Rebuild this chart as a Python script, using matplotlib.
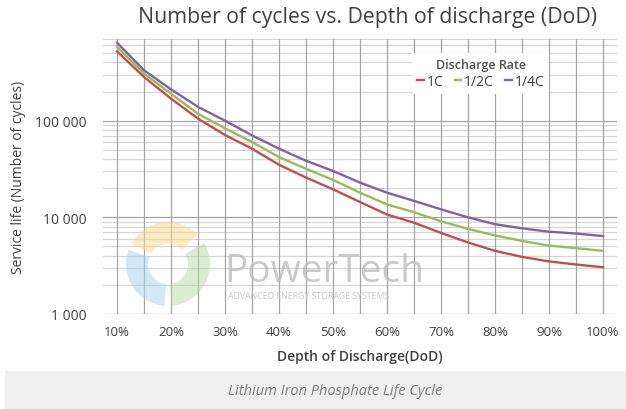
import numpy as np
import matplotlib.pyplot as plt
from matplotlib.patches import Wedge, Rectangle
from matplotlib.transforms import IdentityTransform

# depth of discharge (%)
dod = [10, 15, 20, 25, 30, 35, 40, 45, 50, 55, 60, 65, 70, 75, 80, 85, 90, 95, 100]

# cycles for each discharge rate
cycles_1c = [521000, 283000, 169000, 105000, 71100, 51300, 35000, 25800, 19500, 14400,
             10700, 8800, 6900, 5500, 4500, 3900, 3500, 3250, 3050]
cycles_half_c = [580000, 307000, 190000, 118000, 83400, 60200, 42000, 31800, 24400, 18000,
                 13600, 11300, 9100, 7600, 6500, 5700, 5100, 4800, 4500]
cycles_quarter_c = [641000, 332000, 211000, 139000, 100000, 70500, 51300, 38500, 30200, 22900,
                    18000, 14800, 12100, 10000, 8500, 7700, 7100, 6800, 6400]

series_names = ['1C', '1/2C', '1/4C']
series_colors = ['#c0504d', '#9bbb59', '#8064a2']

x_ticks = [10, 20, 30, 40, 50, 60, 70, 80, 90, 100]
x_tick_labels = ['10%', '20%', '30%', '40%', '50%', '60%', '70%', '80%', '90%', '100%']
y_ticks = [1000, 10000, 100000]
y_tick_labels = ['1 000', '10 000', '100 000']

plt.rcParams['font.family'] = ['Open Sans', 'DejaVu Sans']

fig = plt.figure(figsize=(6.26, 4.10), dpi=100)
fig.patch.set_facecolor('white')

# grey caption band at the bottom
fig.patches.append(Rectangle((5 / 626, 0), 621 / 626, 38 / 410, transform=fig.transFigure,
                             facecolor='#efefef', edgecolor='none', zorder=0))
fig.text(335 / 626, 18 / 410, 'Lithium Iron Phosphate Life Cycle', ha='center', va='center',
         fontsize=10.5, style='italic', color='#7f7f7f')

ax = fig.add_axes([103 / 626, 95 / 410, 514 / 626, 275 / 410])
ax.set_yscale('log')
ax.set_xlim(7.4, 102.6)
ax.set_ylim(1000, 700000)

# faint watermark logo (pixel coords, origin bottom-left)
for t1, t2, col in [(45, 150, '#f7dc8c'), (160, 265, '#a9d3ee'), (275, 390, '#b8dba7')]:
    w = Wedge((168, 145), 42, t1, t2, width=22, facecolor=col, edgecolor='none',
              alpha=0.5, transform=IdentityTransform(), zorder=1)
    fig.patches.append(w)
fig.text(224 / 626, 138 / 410, 'PowerTech', fontsize=28, color='#bdbdbd', alpha=0.8,
         ha='left', va='center')
fig.text(228 / 626, 113 / 410, 'ADVANCED ENERGY STORAGE SYSTEMS', fontsize=6.3, color='#c8c8c8',
         ha='left', va='center')

# grid
for v in dod:
    ax.axvline(v, color='#a6a6a6', lw=0.9, zorder=2)
ax.yaxis.grid(True, which='major', color='#a6a6a6', lw=0.9, zorder=2)
ax.yaxis.grid(True, which='minor', color='#d6d6d6', lw=0.9, zorder=2)
ax.set_axisbelow(True)

for y, name, col in zip([cycles_1c, cycles_half_c, cycles_quarter_c], series_names, series_colors):
    ax.plot(dod, y, color=col, lw=1.7, label=name, zorder=4)

for s in ax.spines.values():
    s.set_visible(False)
ax.patch.set_alpha(0)

ax.set_xticks(x_ticks)
ax.set_xticklabels(x_tick_labels, fontsize=9.5, color='#404040')
ax.set_yticks(y_ticks)
ax.set_yticklabels(y_tick_labels, fontsize=10, color='#404040')
ax.yaxis.set_minor_formatter(plt.NullFormatter())
ax.tick_params(axis='both', which='both', length=0)
ax.tick_params(axis='y', pad=12)
ax.tick_params(axis='x', pad=8)

ax.set_xlabel('Depth of Discharge(DoD)', fontsize=10, fontweight='semibold', color='#404040',
              labelpad=8)
ax.set_ylabel('Service life (Number of cycles)', fontsize=10, color='#404040', labelpad=6)

fig.text(368 / 626, 392 / 410, 'Number of cycles vs. Depth of discharge (DoD)', ha='center',
         va='center', fontsize=15.3, color='#404040')

leg = ax.legend(title='Discharge Rate', ncol=3, loc='center', bbox_to_anchor=(0.735, 0.875),
                fontsize=10, title_fontsize=9, handlelength=0.5, handletextpad=0.2,
                columnspacing=0.8, frameon=True, fancybox=False, borderpad=0.35,
                labelspacing=0.2)
leg.get_frame().set_facecolor('white')
leg.get_frame().set_edgecolor('none')
leg.get_frame().set_alpha(1)
leg.get_title().set_color('#505050')
leg.get_title().set_fontweight('semibold')
for t in leg.get_texts():
    t.set_color('#404040')
leg.set_zorder(5)

fig.savefig('out.png', dpi=100)
